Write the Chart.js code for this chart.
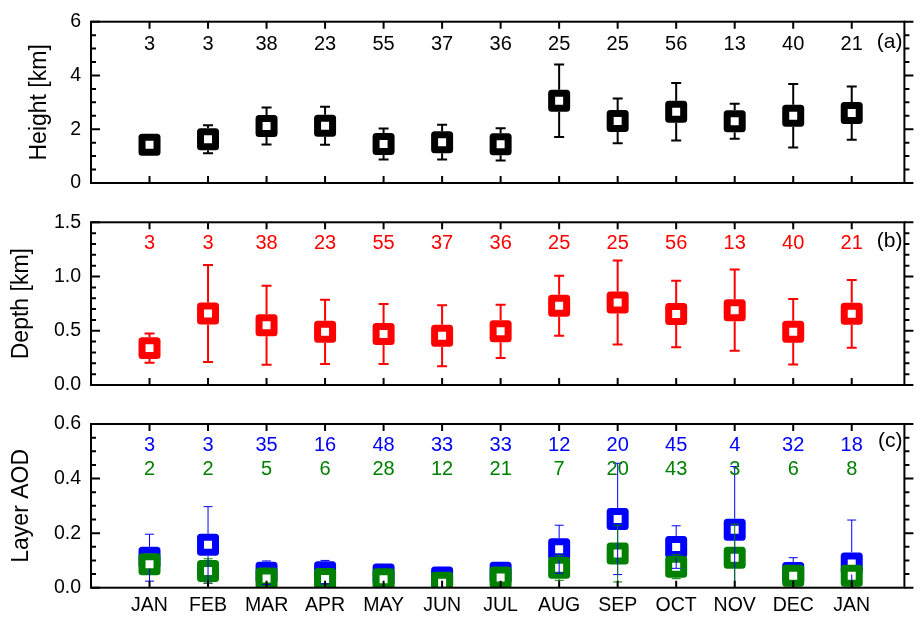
<!DOCTYPE html>
<html>
<head>
<meta charset="utf-8">
<script src="https://cdn.jsdelivr.net/npm/chart.js@4/dist/chart.umd.min.js"></script>
<style>
  html, body { margin: 0; padding: 0; background: #fff; }
  #wrap { position: relative; width: 922px; height: 619px; overflow: hidden; background: #fff; }
  #wrap canvas { position: absolute; left: 0; top: 0; }
</style>
</head>
<body>
<div id="wrap">
  <canvas id="cHeight" width="922" height="619"></canvas>
  <canvas id="cDepth" width="922" height="619"></canvas>
  <canvas id="cAod" width="922" height="619"></canvas>
</div>
<script>
// Monthly layer statistics: mean ± standard deviation, with sample counts
const months = ['JAN', 'FEB', 'MAR', 'APR', 'MAY', 'JUN', 'JUL', 'AUG', 'SEP', 'OCT', 'NOV', 'DEC', 'JAN'];

const heightMean  = [1.42, 1.63, 2.12, 2.13, 1.45, 1.52, 1.44, 3.06, 2.31, 2.65, 2.30, 2.50, 2.60];
const heightSd    = [0.25, 0.52, 0.69, 0.71, 0.58, 0.65, 0.60, 1.35, 0.83, 1.07, 0.65, 1.18, 0.99];
const heightCount = [3, 3, 38, 23, 55, 37, 36, 25, 25, 56, 13, 40, 21];

const depthMean  = [0.34, 0.66, 0.55, 0.49, 0.47, 0.455, 0.495, 0.73, 0.76, 0.655, 0.69, 0.49, 0.656];
const depthSd    = [0.135, 0.447, 0.364, 0.297, 0.277, 0.281, 0.246, 0.277, 0.387, 0.306, 0.375, 0.302, 0.312];
const depthCount = [3, 3, 38, 23, 55, 37, 36, 25, 25, 56, 13, 40, 21];

const aodAllMean  = [0.110, 0.157, 0.055, 0.057, 0.048, 0.037, 0.055, 0.141, 0.252, 0.149, 0.212, 0.054, 0.089];
const aodAllSd    = [0.086, 0.140, 0.043, 0.043, 0.030, 0.020, 0.030, 0.088, 0.204, 0.078, 0.232, 0.056, 0.159];
const aodAllCount = [3, 3, 35, 16, 48, 33, 33, 12, 20, 45, 4, 32, 18];

const aodSubMean  = [0.086, 0.061, 0.034, 0.032, 0.031, 0.018, 0.037, 0.073, 0.125, 0.077, 0.110, 0.044, 0.044];
const aodSubSd    = [0.030, 0.045, 0.020, 0.020, 0.015, 0.010, 0.015, 0.046, 0.104, 0.044, 0.123, 0.020, 0.040];
const aodSubCount = [2, 2, 5, 6, 28, 12, 21, 7, 20, 43, 3, 6, 8];

const heightTicks = [0, 2, 4, 6];
const depthTicks  = [0, 0.5, 1.0, 1.5];
const aodTicks    = [0, 0.2, 0.4, 0.6];

const FONT = "'Liberation Sans', Arial, Helvetica, sans-serif";
Chart.defaults.font.family = FONT;
Chart.defaults.color = '#000';

// Frame, inward ticks, error bars, count rows and panel tag
const panelPlugin = {
  id: 'panel',
  beforeDatasetsDraw(chart) {
    chart.ctx.lineJoin = 'round';
  },
  afterDatasetsDraw(chart) {
    const ctx = chart.ctx;
    const area = chart.chartArea;
    const ys = chart.scales.y;
    const metas = chart.getSortedVisibleDatasetMetas().slice().reverse();
    ctx.save();
    ctx.lineJoin = 'miter';
    ctx.beginPath();
    ctx.rect(area.left, area.top, area.right - area.left, area.bottom - area.top);
    ctx.clip();
    metas.forEach(meta => {
      const ds = chart.data.datasets[meta.index];
      const half = ds.markerHalf;
      ctx.strokeStyle = ds.color;
      ctx.lineWidth = ds.errWidth;
      meta.data.forEach((pt, i) => {
        const v = ds.data[i].y, e = ds.errors[i];
        const x = pt.x, y = pt.y;
        const yTop = ys.getPixelForValue(v + e);
        const yBot = ys.getPixelForValue(v - e);
        const cw = ds.capHalf;
        ctx.beginPath();
        if (yTop < y - half) {
          ctx.moveTo(x, yTop); ctx.lineTo(x, y - half);
          ctx.moveTo(x - cw, yTop); ctx.lineTo(x + cw, yTop);
        }
        if (yBot > y + half) {
          ctx.moveTo(x, y + half); ctx.lineTo(x, yBot);
          ctx.moveTo(x - cw, yBot); ctx.lineTo(x + cw, yBot);
        }
        ctx.stroke();
      });
    });
    ctx.restore();
  },
  afterDraw(chart, args, opts) {
    const ctx = chart.ctx;
    const area = chart.chartArea;
    const xs = chart.scales.x, ys = chart.scales.y;
    ctx.save();
    ctx.strokeStyle = '#000';
    ctx.lineWidth = 2;
    ctx.lineJoin = 'miter';
    ctx.strokeRect(area.left, area.top, area.right - area.left, area.bottom - area.top);
    ctx.beginPath();
    // y ticks: major at labelled values, minor in between
    const yMin = ys.min, yMax = ys.max;
    const nMinor = Math.round((yMax - yMin) / opts.minorStep);
    for (let k = 0; k <= nMinor; k++) {
      const v = yMin + k * opts.minorStep;
      const py = ys.getPixelForValue(v);
      const major = ys.ticks.some(t => Math.abs(t.value - v) < 1e-9);
      const len = major ? 9 : 5;
      ctx.moveTo(area.left, py); ctx.lineTo(area.left + len, py);
      ctx.moveTo(area.right, py); ctx.lineTo(area.right + len, py);
    }
    // x ticks on top and bottom edges at each month
    months.forEach((m, i) => {
      const px = xs.getPixelForValue(i);
      ctx.moveTo(px, area.top); ctx.lineTo(px, area.top + 7);
      ctx.moveTo(px, area.bottom); ctx.lineTo(px, area.bottom - 7);
    });
    ctx.stroke();

    // sample counts above each month
    ctx.textAlign = 'center';
    ctx.textBaseline = 'middle';
    ctx.font = '20px ' + FONT;
    opts.rows.forEach(row => {
      ctx.fillStyle = row.color;
      row.values.forEach((n, i) => {
        ctx.fillText(String(n), xs.getPixelForValue(i), area.top + row.offset);
      });
    });

    // panel tag
    ctx.fillStyle = '#000';
    ctx.textAlign = 'right';
    ctx.font = '21px ' + FONT;
    ctx.fillText(opts.tag, area.right - 2, area.top + opts.tagOffset);
    ctx.restore();
  }
};

function makePanel(id, cfg) {
  const datasets = cfg.series.map(s => ({
    data: s.mean.map((v, i) => ({ x: i, y: v })),
    errors: s.sd,
    color: s.color,
    errWidth: cfg.errWidth,
    capHalf: cfg.capHalf,
    markerHalf: 11,
    order: s.order,
    pointStyle: 'rect',
    pointRadius: 10.6,
    pointHoverRadius: 10.6,
    pointBorderWidth: 7,
    pointHoverBorderWidth: 7,
    pointBackgroundColor: '#fff',
    pointBorderColor: s.color,
    showLine: false,
    clip: 0
  }));

  return new Chart(document.getElementById(id), {
    type: 'scatter',
    data: { datasets },
    options: {
      responsive: false,
      animation: false,
      events: [],
      layout: { padding: { left: 0, right: 5.5, top: cfg.top, bottom: cfg.bottom } },
      plugins: {
        legend: { display: false },
        tooltip: { enabled: false },
        panel: { rows: cfg.rows, tag: cfg.tag, tagOffset: cfg.tagOffset, minorStep: cfg.minorStep }
      },
      scales: {
        x: {
          type: 'linear',
          min: -1,
          max: 12.9,
          display: cfg.showMonths,
          afterBuildTicks: s => { s.ticks = months.map((m, i) => ({ value: i })); },
          afterFit: s => { s.height = cfg.xHeight; },
          grid: { display: false, drawTicks: false },
          border: { display: false },
          ticks: {
            autoSkip: false,
            maxRotation: 0,
            padding: 6.6,
            font: { size: 19.5 },
            color: '#000',
            callback: v => months[v]
          }
        },
        y: {
          min: cfg.ticks[0],
          max: cfg.ticks[cfg.ticks.length - 1],
          afterBuildTicks: s => { s.ticks = cfg.ticks.map(v => ({ value: v })); },
          afterFit: s => { s.width = 91; },
          grid: { display: false, drawTicks: false },
          border: { display: false },
          ticks: {
            padding: 10,
            font: { size: 19.5 },
            color: '#000',
            callback: v => v.toFixed(cfg.decimals)
          },
          title: {
            display: true,
            text: cfg.title,
            color: '#000',
            font: { size: 23 },
            padding: { top: cfg.titlePad, bottom: 0 }
          }
        }
      }
    },
    plugins: [panelPlugin]
  });
}

makePanel('cHeight', {
  top: 19.5, bottom: 436, xHeight: 0, showMonths: false,
  ticks: heightTicks, decimals: 0, minorStep: 0.5,
  title: 'Height [km]', titlePad: 26,
  errWidth: 2, capHalf: 5,
  tag: '(a)', tagOffset: 20.5,
  series: [{ mean: heightMean, sd: heightSd, color: '#000000', order: 0 }],
  rows: [{ values: heightCount, color: '#000000', offset: 22.5 }]
});

makePanel('cDepth', {
  top: 222.3, bottom: 234, xHeight: 0, showMonths: false,
  ticks: depthTicks, decimals: 1, minorStep: 0.1,
  title: 'Depth [km]', titlePad: 7.7,
  errWidth: 2, capHalf: 5,
  tag: '(b)', tagOffset: 19.4,
  series: [{ mean: depthMean, sd: depthSd, color: '#ff0000', order: 0 }],
  rows: [{ values: depthCount, color: '#ff0000', offset: 21 }]
});

makePanel('cAod', {
  top: 424, bottom: 0, xHeight: 31.3, showMonths: true,
  ticks: aodTicks, decimals: 1, minorStep: 0.05,
  title: 'Layer AOD', titlePad: 7.7,
  errWidth: 1, capHalf: 4.5,
  tag: '(c)', tagOffset: 17,
  series: [
    { mean: aodAllMean, sd: aodAllSd, color: '#0000ff', order: 1 },
    { mean: aodSubMean, sd: aodSubSd, color: '#008000', order: 0 }
  ],
  rows: [
    { values: aodAllCount, color: '#0000ff', offset: 21.7 },
    { values: aodSubCount, color: '#008000', offset: 45 }
  ]
});
</script>
</body>
</html>
